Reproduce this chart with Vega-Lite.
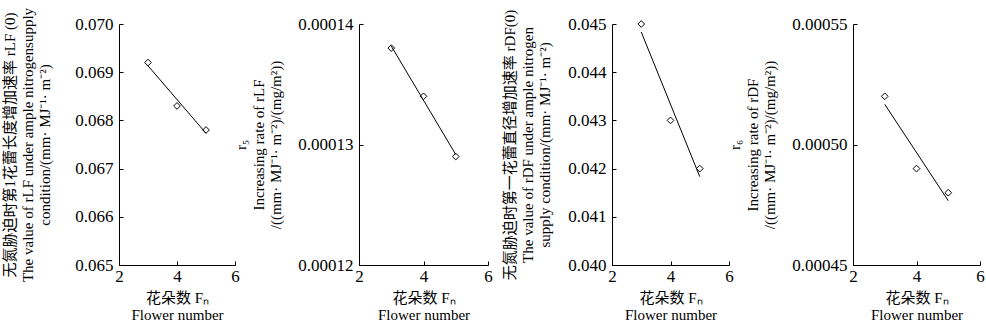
{
  "$schema": "https://vega.github.io/schema/vega-lite/v6.json",
  "padding": {"left": 2, "top": 5, "right": 0, "bottom": 0},
  "background": "white",
  "config": {
    "view": {"stroke": null},
    "font": "Liberation Serif",
    "axis": {
      "grid": false,
      "domainColor": "black",
      "domainWidth": 1,
      "tickColor": "black",
      "tickSize": -4,
      "tickWidth": 1,
      "labelFont": "Liberation Serif",
      "labelFontSize": 17,
      "labelColor": "black",
      "titleFont": "Liberation Serif, Noto Sans CJK SC",
      "titleFontSize": 15,
      "titleFontWeight": "normal",
      "titleColor": "black",
      "titleLineHeight": 17.5
    },
    "axisX": {"labelPadding": 7, "titlePadding": 6, "labelFlush": false, "titleLineHeight": 17.5},
    "axisY": {"labelPadding": 10, "labelFlush": false}
  },
  "bounds": "flush",
  "spacing": 124,
  "hconcat": [
    {
      "width": 116,
      "height": 241,
      "data": {"values": [
        {"flowers": 3, "rate": 0.0692},
        {"flowers": 4, "rate": 0.0683},
        {"flowers": 5, "rate": 0.0678}
      ]},
      "layer": [
        {
          "mark": {"type": "point", "shape": "diamond", "filled": false, "stroke": "black", "strokeWidth": 1, "size": 45, "opacity": 1},
          "encoding": {
            "x": {"field": "flowers", "type": "quantitative", "scale": {"domain": [2, 6], "nice": false}, "axis": {"values": [2, 4, 6], "title": ["花朵数 Fₙ", "Flower number"]}},
            "y": {"field": "rate", "type": "quantitative", "scale": {"domain": [0.065, 0.070], "nice": false, "zero": false}, "axis": {"values": [0.065, 0.066, 0.067, 0.068, 0.069, 0.070], "format": ".3f", "titlePadding": 22, "title": ["无氮胁迫时第1花蕾长度增加速率 rLF (0)", "The value of  rLF under ample nitrogensupply", "condition/(mm· MJ⁻¹· m⁻²)"]}}
          }
        },
        {
          "transform": [{"regression": "rate", "on": "flowers", "extent": [3, 5]}],
          "mark": {"type": "line", "color": "black", "strokeWidth": 1},
          "encoding": {
            "x": {"field": "flowers", "type": "quantitative"},
            "y": {"field": "rate", "type": "quantitative"}
          }
        }
      ]
    },
    {
      "width": 129,
      "height": 241,
      "data": {"values": [
        {"flowers": 3, "rate": 0.000138},
        {"flowers": 4, "rate": 0.000134},
        {"flowers": 5, "rate": 0.000129}
      ]},
      "layer": [
        {
          "mark": {"type": "point", "shape": "diamond", "filled": false, "stroke": "black", "strokeWidth": 1, "size": 45, "opacity": 1},
          "encoding": {
            "x": {"field": "flowers", "type": "quantitative", "scale": {"domain": [2, 6], "nice": false}, "axis": {"values": [2, 4, 6], "title": ["花朵数 Fₙ", "Flower number"]}},
            "y": {"field": "rate", "type": "quantitative", "scale": {"domain": [0.00012, 0.00014], "nice": false, "zero": false}, "axis": {"values": [0.00012, 0.00013, 0.00014], "format": ".5f", "titlePadding": 14, "title": ["r₅", "Increasing rate of  rLF", "/((mm· MJ⁻¹· m⁻²)/(mg/m²))"]}}
          }
        },
        {
          "transform": [{"regression": "rate", "on": "flowers", "extent": [3, 5]}],
          "mark": {"type": "line", "color": "black", "strokeWidth": 1},
          "encoding": {
            "x": {"field": "flowers", "type": "quantitative"},
            "y": {"field": "rate", "type": "quantitative"}
          }
        }
      ]
    },
    {
      "width": 117,
      "height": 241,
      "data": {"values": [
        {"flowers": 3, "rate": 0.0450},
        {"flowers": 4, "rate": 0.0430},
        {"flowers": 5, "rate": 0.0420}
      ]},
      "layer": [
        {
          "mark": {"type": "point", "shape": "diamond", "filled": false, "stroke": "black", "strokeWidth": 1, "size": 45, "opacity": 1},
          "encoding": {
            "x": {"field": "flowers", "type": "quantitative", "scale": {"domain": [2, 6], "nice": false}, "axis": {"values": [2, 4, 6], "title": ["花朵数 Fₙ", "Flower number"]}},
            "y": {"field": "rate", "type": "quantitative", "scale": {"domain": [0.040, 0.045], "nice": false, "zero": false}, "axis": {"values": [0.040, 0.041, 0.042, 0.043, 0.044, 0.045], "format": ".3f", "titlePadding": 15, "title": ["无氮胁迫时第一花蕾直径增加速率 rDF(0)", "The value of  rDF under ample nitrogen", "supply condition/(mm· MJ⁻¹· m⁻²)"]}}
          }
        },
        {
          "transform": [{"regression": "rate", "on": "flowers", "extent": [3, 5]}],
          "mark": {"type": "line", "color": "black", "strokeWidth": 1},
          "encoding": {
            "x": {"field": "flowers", "type": "quantitative"},
            "y": {"field": "rate", "type": "quantitative"}
          }
        }
      ]
    },
    {
      "width": 127,
      "height": 241,
      "data": {"values": [
        {"flowers": 3, "rate": 0.000520},
        {"flowers": 4, "rate": 0.000490},
        {"flowers": 5, "rate": 0.000480}
      ]},
      "layer": [
        {
          "mark": {"type": "point", "shape": "diamond", "filled": false, "stroke": "black", "strokeWidth": 1, "size": 45, "opacity": 1},
          "encoding": {
            "x": {"field": "flowers", "type": "quantitative", "scale": {"domain": [2, 6], "nice": false}, "axis": {"values": [2, 4, 6], "title": ["花朵数 Fₙ", "Flower number"]}},
            "y": {"field": "rate", "type": "quantitative", "scale": {"domain": [0.00045, 0.00055], "nice": false, "zero": false}, "axis": {"values": [0.00045, 0.00050, 0.00055], "format": ".5f", "titlePadding": 14, "title": ["r₆", "Increasing rate of  rDF", "/((mm· MJ⁻¹· m⁻²)/(mg/m²))"]}}
          }
        },
        {
          "transform": [{"regression": "rate", "on": "flowers", "extent": [3, 5]}],
          "mark": {"type": "line", "color": "black", "strokeWidth": 1},
          "encoding": {
            "x": {"field": "flowers", "type": "quantitative"},
            "y": {"field": "rate", "type": "quantitative"}
          }
        }
      ]
    }
  ]
}
